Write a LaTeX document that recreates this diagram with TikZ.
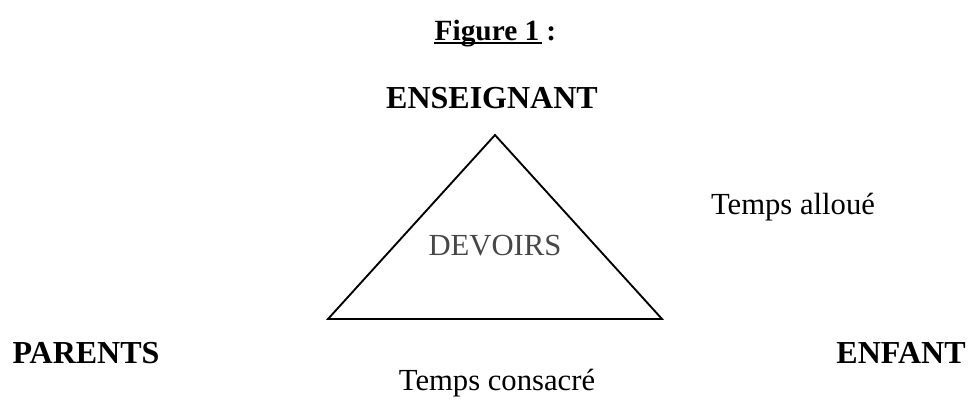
\documentclass[tikz,border=0pt]{standalone}
\usepackage{fontspec}
\setmainfont{Liberation Serif}
\usetikzlibrary{positioning}

\begin{document}
\begin{tikzpicture}[x=0.75pt, y=0.75pt,
  pole/.style={font={\fontsize{24}{28}\selectfont\bfseries}, inner sep=0pt, anchor=base},
  tempslbl/.style={font={\fontsize{23}{27}\selectfont}, inner sep=0pt, anchor=base},
  centre/.style={font={\fontsize{23}{27}\selectfont}, text=black!72, inner sep=0pt, anchor=base},
  tri/.style={line width=1.4pt, line join=miter}
]
\useasboundingbox (0,0) rectangle (974,405);
% title
\node[pole, font={\fontsize{22}{26}\selectfont\bfseries}] (fig) at (487,365) {Figure 1};
\node[pole, font={\fontsize{22}{26}\selectfont\bfseries}, anchor=base west] (colon) at ([xshift=5pt]fig.base east) {:};
\draw[line width=0.9pt] ([yshift=-2.2pt]fig.base west) -- ([yshift=-2.2pt,xshift=1.5pt]fig.base east);
% triangle
\coordinate (apex) at (495,270);
\coordinate (bl) at (328,86);
\coordinate (br) at (662,86);
\draw[tri] (apex) -- (bl) -- (br) -- cycle;
\node[centre] (dev) at (495,150) {DEVOIRS};
% poles
\node[pole] (ens) at (492,297) {ENSEIGNANT};
\node[pole] (par) at (86,42) {PARENTS};
\node[pole] (enf) at (901,42) {ENFANT};
% times
\node[tempslbl] (alloue) at (793,191) {Temps alloué};
\node[tempslbl] (consacre) at (497,15) {Temps consacré};
\end{tikzpicture}
\end{document}
